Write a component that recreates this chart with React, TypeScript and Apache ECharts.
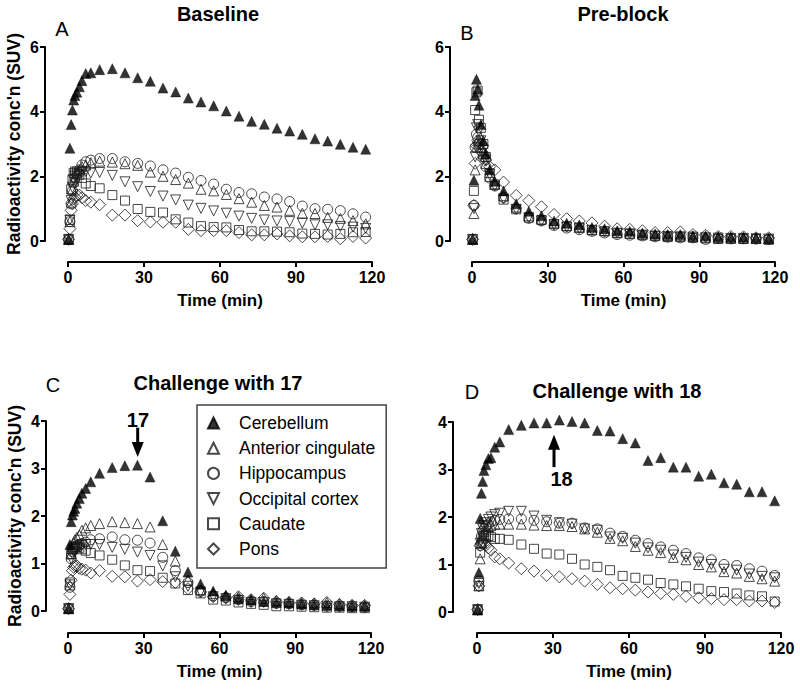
import React, { useEffect, useRef } from 'react';
import * as echarts from 'echarts';

// Frame mid-times (min)
const TIME = [0.25, 0.75, 1.25, 1.75, 2.25, 2.75, 3.5, 4.5, 5.5, 7, 9, 12.5, 17.5, 22.5, 27.5, 32.5, 37.5, 42.5, 47.5, 52.5, 57.5, 62.5, 67.5, 72.5, 77.5, 82.5, 87.5, 92.5, 97.5, 102.5, 107.5, 112.5, 117.5];

const REGIONS = ['Cerebellum', 'Anterior cingulate', 'Hippocampus', 'Occipital cortex', 'Caudate', 'Pons'];
const PANEL_TITLES = ['Baseline', 'Pre-block', 'Challenge with 17', 'Challenge with 18'];
const PANEL_LETTERS = ['A', 'B', 'C', 'D'];
const X_MAX = 120;
const X_INTERVAL = 30;
const Y_MAX = [6, 6, 4, 4];
const Y_INTERVAL = [2, 2, 1, 1];
const X_NAME = 'Time (min)';
const Y_NAME = "Radioactivity conc'n (SUV)";

// Panel A: Baseline
const aCer = [0.05, 2.87, 3.6, 4.05, 4.36, 4.5, 4.6, 4.77, 4.96, 5.18, 5.2, 5.3, 5.33, 5.2, 5.05, 4.94, 4.73, 4.61, 4.42, 4.3, 4.18, 4.02, 3.86, 3.7, 3.61, 3.49, 3.4, 3.3, 3.16, 3.09, 2.99, 2.9, 2.84];
const aAC = [0.05, 0.6, 1.2, 1.6, 1.85, 2.0, 2.1, 2.2, 2.3, 2.35, 2.42, 2.47, 2.44, 2.39, 2.34, 2.13, 2.0, 1.9, 1.79, 1.6, 1.55, 1.44, 1.31, 1.2, 1.1, 1.05, 0.95, 0.86, 0.85, 0.73, 0.7, 0.63, 0.53];
const aHip = [0.05, 0.6, 1.15, 1.55, 1.8, 1.95, 2.05, 2.2, 2.35, 2.45, 2.5, 2.55, 2.55, 2.45, 2.4, 2.32, 2.2, 2.1, 1.97, 1.87, 1.76, 1.6, 1.5, 1.46, 1.36, 1.3, 1.22, 1.08, 1.0, 0.98, 0.94, 0.84, 0.74];
const aOcc = [0.05, 0.65, 1.25, 1.65, 1.9, 2.0, 2.05, 2.1, 2.12, 2.15, 2.1, 2.12, 2.03, 1.83, 1.68, 1.53, 1.39, 1.27, 1.11, 1.01, 0.93, 0.86, 0.77, 0.7, 0.65, 0.62, 0.6, 0.55, 0.5, 0.5, 0.45, 0.43, 0.39];
const aCau = [0.05, 0.65, 1.6, 1.9, 2.1, 2.15, 2.15, 2.05, 1.95, 1.78, 1.7, 1.63, 1.42, 1.25, 0.99, 0.9, 0.88, 0.67, 0.57, 0.46, 0.43, 0.42, 0.34, 0.3, 0.3, 0.29, 0.27, 0.23, 0.22, 0.2, 0.22, 0.27, 0.28];
const aPon = [0.05, 0.38, 0.95, 1.15, 1.3, 1.35, 1.42, 1.42, 1.34, 1.25, 1.2, 1.12, 0.8, 0.8, 0.63, 0.59, 0.58, 0.58, 0.36, 0.32, 0.32, 0.32, 0.26, 0.19, 0.19, 0.22, 0.16, 0.13, 0.13, 0.14, 0.07, 0.14, 0.09];

// Panel B: Pre-block
const bCer = [0.05, 1.88, 4.5, 5.0, 4.7, 4.2, 3.6, 3.1, 2.7, 2.2, 1.85, 1.55, 1.15, 0.92, 0.78, 0.62, 0.55, 0.5, 0.42, 0.38, 0.32, 0.3, 0.25, 0.22, 0.2, 0.2, 0.16, 0.16, 0.13, 0.12, 0.12, 0.1, 0.08];
const bAC = [0.05, 0.85, 2.2, 2.9, 3.1, 3.0, 2.9, 2.7, 2.4, 2.0, 1.75, 1.4, 1.05, 0.78, 0.68, 0.56, 0.48, 0.42, 0.36, 0.32, 0.27, 0.24, 0.22, 0.18, 0.17, 0.16, 0.14, 0.12, 0.1, 0.1, 0.09, 0.08, 0.07];
const bHip = [0.05, 1.1, 2.9, 3.3, 3.2, 3.0, 2.8, 2.6, 2.3, 1.95, 1.7, 1.35, 1.0, 0.7, 0.62, 0.48, 0.4, 0.35, 0.3, 0.25, 0.2, 0.18, 0.16, 0.13, 0.12, 0.1, 0.1, 0.05, 0.08, 0.07, 0.07, 0.06, 0.05];
const bOcc = [0.05, 1.0, 2.6, 3.5, 3.6, 3.4, 3.1, 2.8, 2.5, 2.05, 1.7, 1.3, 0.98, 0.72, 0.62, 0.5, 0.43, 0.38, 0.33, 0.28, 0.24, 0.22, 0.18, 0.15, 0.14, 0.13, 0.12, 0.1, 0.09, 0.08, 0.08, 0.07, 0.06];
const bCau = [0.05, 1.55, 4.05, 4.6, 4.65, 3.75, 3.5, 3.0, 2.6, 2.1, 1.75, 1.28, 0.98, 0.72, 0.65, 0.52, 0.45, 0.42, 0.33, 0.3, 0.24, 0.22, 0.18, 0.16, 0.12, 0.12, 0.1, 0.08, 0.06, 0.06, 0.06, 0.06, 0.04];
const bPon = [0.05, 1.1, 2.4, 2.95, 3.1, 3.05, 3.0, 2.7, 2.5, 2.3, 2.2, 1.82, 1.41, 1.25, 1.06, 0.82, 0.69, 0.62, 0.56, 0.46, 0.38, 0.36, 0.32, 0.26, 0.26, 0.28, 0.2, 0.18, 0.14, 0.14, 0.13, 0.1, 0.1];

// Panel C: Challenge with 17
const cCer = [0.05, 1.4, 1.88, 2.02, 2.1, 2.16, 2.27, 2.37, 2.48, 2.58, 2.72, 2.9, 3.02, 3.06, 3.07, 2.82, 1.9, 1.26, 0.82, 0.57, 0.42, 0.33, 0.26, 0.23, 0.2, 0.18, 0.17, 0.15, 0.13, 0.12, 0.11, 0.1, 0.1];
const cAC = [0.05, 0.55, 1.2, 1.35, 1.45, 1.5, 1.55, 1.6, 1.7, 1.75, 1.8, 1.84, 1.88, 1.86, 1.84, 1.77, 1.4, 1.05, 0.65, 0.45, 0.37, 0.32, 0.3, 0.25, 0.27, 0.22, 0.2, 0.18, 0.17, 0.18, 0.15, 0.13, 0.12];
const cHip = [0.05, 0.5, 1.1, 1.25, 1.3, 1.35, 1.38, 1.4, 1.42, 1.45, 1.5, 1.52, 1.56, 1.5, 1.49, 1.43, 1.13, 0.85, 0.6, 0.42, 0.32, 0.28, 0.24, 0.2, 0.2, 0.16, 0.15, 0.13, 0.12, 0.1, 0.1, 0.09, 0.08];
const cOcc = [0.05, 0.55, 1.1, 1.2, 1.25, 1.3, 1.32, 1.35, 1.38, 1.4, 1.4, 1.4, 1.34, 1.3, 1.24, 1.17, 0.95, 0.72, 0.52, 0.4, 0.3, 0.26, 0.22, 0.18, 0.18, 0.15, 0.14, 0.12, 0.11, 0.1, 0.09, 0.09, 0.08];
const cCau = [0.05, 0.6, 1.2, 1.3, 1.33, 1.35, 1.35, 1.33, 1.3, 1.27, 1.22, 1.17, 1.08, 0.96, 0.86, 0.84, 0.7, 0.58, 0.44, 0.37, 0.24, 0.22, 0.18, 0.15, 0.13, 0.1, 0.1, 0.09, 0.08, 0.07, 0.07, 0.06, 0.06];
const cPon = [0.05, 0.35, 0.65, 0.85, 0.92, 0.95, 0.95, 0.9, 0.88, 0.86, 0.8, 0.85, 0.73, 0.72, 0.63, 0.66, 0.62, 0.6, 0.47, 0.4, 0.3, 0.28, 0.3, 0.24, 0.27, 0.2, 0.18, 0.17, 0.15, 0.18, 0.14, 0.12, 0.12];

// Panel D: Challenge with 18
const dCer = [0.04, 0.83, 1.97, 2.5, 2.75, 2.98, 3.1, 3.23, 3.25, 3.47, 3.58, 3.84, 3.93, 3.98, 3.98, 4.04, 4.01, 3.98, 3.82, 3.81, 3.65, 3.56, 3.19, 3.25, 3.05, 3.05, 2.86, 2.9, 2.72, 2.69, 2.53, 2.53, 2.34];
const dAC = [0.05, 0.55, 1.12, 1.45, 1.6, 1.7, 1.75, 1.8, 1.82, 1.85, 1.85, 1.85, 1.85, 1.83, 1.82, 1.82, 1.8, 1.75, 1.68, 1.55, 1.5, 1.38, 1.3, 1.25, 1.15, 1.1, 1.0, 0.95, 0.85, 0.82, 0.75, 0.7, 0.65];
const dHip = [0.05, 0.65, 1.4, 1.6, 1.7, 1.75, 1.8, 1.85, 1.9, 1.93, 1.95, 1.96, 1.96, 1.93, 1.9, 1.87, 1.87, 1.77, 1.75, 1.66, 1.59, 1.51, 1.44, 1.37, 1.3, 1.23, 1.14, 1.1, 1.0, 0.98, 0.91, 0.86, 0.77];
const dOcc = [0.05, 0.6, 1.45, 1.65, 1.75, 1.82, 1.88, 1.95, 2.0, 2.05, 2.08, 2.12, 2.12, 2.02, 1.93, 1.88, 1.85, 1.75, 1.72, 1.58, 1.55, 1.45, 1.35, 1.3, 1.2, 1.15, 1.05, 1.0, 0.9, 0.88, 0.8, 0.75, 0.72];
const dCau = [0.05, 0.55, 1.25, 1.45, 1.55, 1.6, 1.62, 1.6, 1.58, 1.54, 1.54, 1.52, 1.42, 1.33, 1.23, 1.21, 1.12, 1.0, 0.95, 0.88, 0.76, 0.72, 0.68, 0.61, 0.58, 0.54, 0.49, 0.44, 0.42, 0.39, 0.35, 0.33, 0.22];
const dPon = [0.05, 0.55, 1.4, 1.45, 1.5, 1.45, 1.4, 1.35, 1.3, 1.16, 1.12, 1.03, 0.91, 0.86, 0.77, 0.74, 0.7, 0.65, 0.58, 0.51, 0.49, 0.46, 0.42, 0.39, 0.37, 0.33, 0.3, 0.28, 0.26, 0.26, 0.23, 0.23, 0.2];

const PANEL_DATA = [
  [aCer, aAC, aHip, aOcc, aCau, aPon],
  [bCer, bAC, bHip, bOcc, bCau, bPon],
  [cCer, cAC, cHip, cOcc, cCau, cPon],
  [dCer, dAC, dHip, dOcc, dCau, dPon],
];

// Drug-challenge annotations (data coordinates): arrow tail -> tip, and label position
const ARROWS = [
  { panel: 2, label: '17', time: 27.6, tail: 3.86, tip: 3.24, labelTime: 27.7, labelValue: 4.03 },
  { panel: 3, label: '18', time: 30.4, tail: 3.05, tip: 3.73, labelTime: 33.4, labelValue: 2.79 },
];

const FONT = '"Liberation Sans", Arial, Helvetica, sans-serif';

const GRIDS = [
  { left: 68, top: 47, width: 304, height: 194 },
  { left: 472, top: 47, width: 303, height: 194 },
  { left: 68, top: 421, width: 303, height: 190 },
  { left: 477, top: 422, width: 304, height: 190 },
];
const Y_OFFSETS = [23, 22, 22, 24];
const X_OFFSETS = [21, 21, 22, 21];

const STYLES = [
  { symbol: 'triangle', size: 10, rotate: 0, filled: true },
  { symbol: 'triangle', size: 10, rotate: 0, filled: false },
  { symbol: 'circle', size: 10, rotate: 0, filled: false },
  { symbol: 'triangle', size: 10, rotate: 180, filled: false },
  { symbol: 'rect', size: 9, rotate: 0, filled: false },
  { symbol: 'diamond', size: 12, rotate: 0, filled: false },
];

const LEGEND_ICONS: Record<string, string> = {
  'Occipital cortex': 'path://M0,0L10,0L5,10Z',
};

export default function App() {
  const ref = useRef<HTMLDivElement>(null);
  useEffect(() => {
    if (!ref.current) return;
    const chart = echarts.init(ref.current, null, { renderer: 'svg' });

    const series: any[] = [];
    PANEL_DATA.forEach((panel, p) => {
      panel.forEach((vals, r) => {
        const st = STYLES[r];
        series.push({
          type: 'scatter',
          name: REGIONS[r],
          xAxisIndex: p,
          yAxisIndex: p,
          symbol: st.symbol,
          symbolSize: st.size,
          symbolRotate: st.rotate,
          clip: false,
          itemStyle: st.filled
            ? { color: '#000', borderColor: '#000', borderWidth: 0.5 }
            : { color: 'rgba(255,255,255,0)', borderColor: '#1a1a1a', borderWidth: 1 },
          data: TIME.map((t, k) => [t, vals[k]]),
          z: 2 + (5 - r) * 0.01,
        });
      });
    });

    const axisLine = { show: true, onZero: false, lineStyle: { color: '#000', width: 2 } };
    const axisTick = { show: true, length: 5, lineStyle: { color: '#000', width: 2 } };
    const labelStyle = { fontSize: 16, fontWeight: 'bold', color: '#000', fontFamily: FONT };

    const graphics: any[] = [];
    const titlePos = [[218, 14], [623, 14], [218, 383], [617, 391]];
    const letterPos = [[62, 29], [467, 33], [53, 385], [472, 392]];
    PANEL_TITLES.forEach((t, i) => {
      graphics.push({
        type: 'text',
        x: titlePos[i][0],
        y: titlePos[i][1],
        style: {
          text: t,
          font: `bold 20px ${FONT}`,
          fill: '#000',
          textAlign: 'center',
          textVerticalAlign: 'middle',
          align: 'center',
          verticalAlign: 'middle',
        },
      });
      graphics.push({
        type: 'text',
        x: letterPos[i][0],
        y: letterPos[i][1],
        style: {
          text: PANEL_LETTERS[i],
          font: `20px ${FONT}`,
          fill: '#000',
          textAlign: 'center',
          textVerticalAlign: 'middle',
          align: 'center',
          verticalAlign: 'middle',
        },
      });
    });

    chart.setOption({
      animation: false,
      backgroundColor: '#fff',
      textStyle: { fontFamily: FONT },
      grid: GRIDS.map((g) => ({ ...g, containLabel: false })),
      xAxis: GRIDS.map((_, i) => ({
        type: 'value',
        gridIndex: i,
        min: 0,
        max: X_MAX,
        interval: X_INTERVAL,
        offset: X_OFFSETS[i],
        axisLine,
        axisTick,
        axisLabel: { ...labelStyle, margin: 7 },
        splitLine: { show: false },
        name: X_NAME,
        nameLocation: 'middle',
        nameGap: 30,
        nameTextStyle: { fontSize: 17, fontWeight: 'bold', color: '#000', fontFamily: FONT },
      })),
      yAxis: GRIDS.map((_, i) => ({
        type: 'value',
        gridIndex: i,
        min: 0,
        max: Y_MAX[i],
        interval: Y_INTERVAL[i],
        offset: Y_OFFSETS[i],
        axisLine,
        axisTick,
        axisLabel: { ...labelStyle, margin: 6 },
        splitLine: { show: false },
        name: i % 2 === 0 ? Y_NAME : '',
        nameLocation: 'middle',
        nameGap: 22,
        nameTextStyle: { fontSize: 17.5, fontWeight: 'bold', color: '#000', fontFamily: FONT },
      })),
      legend: {
        data: REGIONS.map((n) => (LEGEND_ICONS[n] ? { name: n, icon: LEGEND_ICONS[n] } : n)),
        orient: 'vertical',
        left: 197,
        top: 405,
        padding: [9, 11, 10, 10],
        itemWidth: 11,
        itemHeight: 11,
        itemGap: 7.2,
        borderColor: '#444',
        borderWidth: 1.5,
        selectedMode: false,
        textStyle: {
          fontSize: 17.5,
          lineHeight: 18,
          color: '#000',
          fontFamily: FONT,
          padding: [0, 0, 0, 15],
        },
      },
      graphic: graphics,
      series,
    });

    // Arrows and labels placed through the axes' own scales
    ARROWS.forEach((a) => {
      const finder: any = { gridIndex: a.panel };
      const tail = chart.convertToPixel(finder, [a.time, a.tail]) as number[];
      const tip = chart.convertToPixel(finder, [a.time, a.tip]) as number[];
      const lab = chart.convertToPixel(finder, [a.labelTime, a.labelValue]) as number[];
      const dir = tip[1] > tail[1] ? 1 : -1;
      const headLen = 15;
      const halfW = 6;
      const baseY = tip[1] - dir * headLen;
      graphics.push({
        type: 'line',
        shape: { x1: tail[0], y1: tail[1], x2: tip[0], y2: baseY + dir * 2 },
        style: { stroke: '#000', lineWidth: 3 },
      });
      graphics.push({
        type: 'polygon',
        shape: { points: [[tip[0], tip[1]], [tip[0] - halfW, baseY], [tip[0] + halfW, baseY]] },
        style: { fill: '#000' },
      });
      graphics.push({
        type: 'text',
        x: lab[0],
        y: lab[1],
        style: {
          text: a.label,
          font: `bold 20px ${FONT}`,
          fill: '#000',
          textAlign: 'center',
          textVerticalAlign: 'middle',
          align: 'center',
          verticalAlign: 'middle',
        },
      });
    });
    chart.setOption({ graphic: graphics });

    return () => chart.dispose();
  }, []);

  return (
    <div
      ref={ref}
      style={{ position: 'absolute', left: 0, top: 0, width: 800, height: 690, background: '#fff' }}
    />
  );
}
